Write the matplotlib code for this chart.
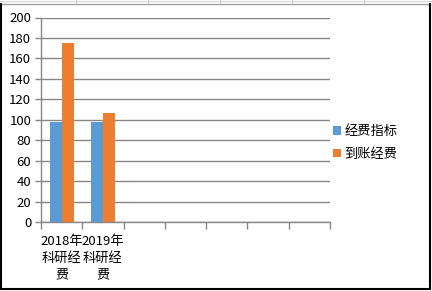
import matplotlib
matplotlib.use('Agg')
import matplotlib.pyplot as plt
from matplotlib.patches import Patch
from matplotlib.lines import Line2D
import numpy as np

plt.rcParams['font.family'] = ['Noto Sans CJK SC', 'DejaVu Sans']

categories = ["2018年\n科研经\n费", "2019年\n科研经\n费", "", "", "", "", ""]
series_names = ["经费指标", "到账经费"]
budget = [98, 98]
received = [175, 107]
y_ticks = list(range(0, 201, 20))

blue = '#5B9BD5'
orange = '#ED7D31'
grid_gray = '#868686'

W, H = 432, 291
fig = plt.figure(figsize=(W / 100, H / 100), dpi=100)
ax = fig.add_axes([41 / W, 1 - 222 / H, (330 - 41) / W, (222 - 17.5) / H])

bw = 0.29
x = np.arange(len(budget))
ax.bar(x - bw / 2, budget, bw, color=blue, zorder=3)
ax.bar(x + bw / 2, received, bw, color=orange, zorder=3)

ax.set_xlim(-0.5, len(categories) - 0.5)
ax.set_ylim(0, 200)
ax.set_yticks(y_ticks)
ax.yaxis.grid(True, color=grid_gray, lw=1, zorder=0)

# category ticks sit between the slots, labels at the centres
ax.set_xticks(np.arange(len(categories) + 1) - 0.5)
ax.set_xticklabels([])
ax.set_xticks(np.arange(len(categories)), minor=True)
ax.set_xticklabels(categories, minor=True, fontsize=9.5, linespacing=1.4, va='top')
ax.tick_params(axis='x', which='major', length=5, color=grid_gray, width=1)
ax.tick_params(axis='x', which='minor', length=0, pad=9)
ax.tick_params(axis='y', length=4, color=grid_gray, width=1, labelsize=9.5, pad=3)

for s in ['top', 'right']:
    ax.spines[s].set_visible(False)
for s in ['left', 'bottom']:
    ax.spines[s].set_color(grid_gray)
    ax.spines[s].set_linewidth(1)

handles = [Patch(facecolor=blue), Patch(facecolor=orange)]
fig.legend(handles, series_names, loc='upper left', bbox_to_anchor=(328 / W, 1 - 120 / H),
           frameon=False, fontsize=9.5, handlelength=0.6, handleheight=0.6,
           handletextpad=0.25, labelspacing=0.7, borderaxespad=0)

# chart frame and sheet gridlines behind it
fig.add_artist(Line2D([0, 1], [1 - 1 / H] * 2, color='#D4D4D4', lw=0.8, transform=fig.transFigure))
for gx in [76, 148, 220, 292, 364]:
    fig.add_artist(Line2D([gx / W] * 2, [1 - 3 / H, 1], color='#D4D4D4', lw=0.8, transform=fig.transFigure))
fig.add_artist(Line2D([0.5 / W, 429.5 / W], [1 - 3.5 / H] * 2, color='#A0A0A0', lw=1, transform=fig.transFigure))
fig.add_artist(Line2D([0.8 / W] * 2, [1 - 3.5 / H, 1 - 289 / H], color='black', lw=1.5, transform=fig.transFigure))
fig.add_artist(Line2D([429.5 / W] * 2, [1 - 3.5 / H, 1 - 289 / H], color='black', lw=1.5, transform=fig.transFigure))
fig.add_artist(Line2D([0.8 / W, 429.5 / W], [1 - 289 / H] * 2, color='black', lw=1.5, transform=fig.transFigure))

fig.savefig('out.png', dpi=100)
